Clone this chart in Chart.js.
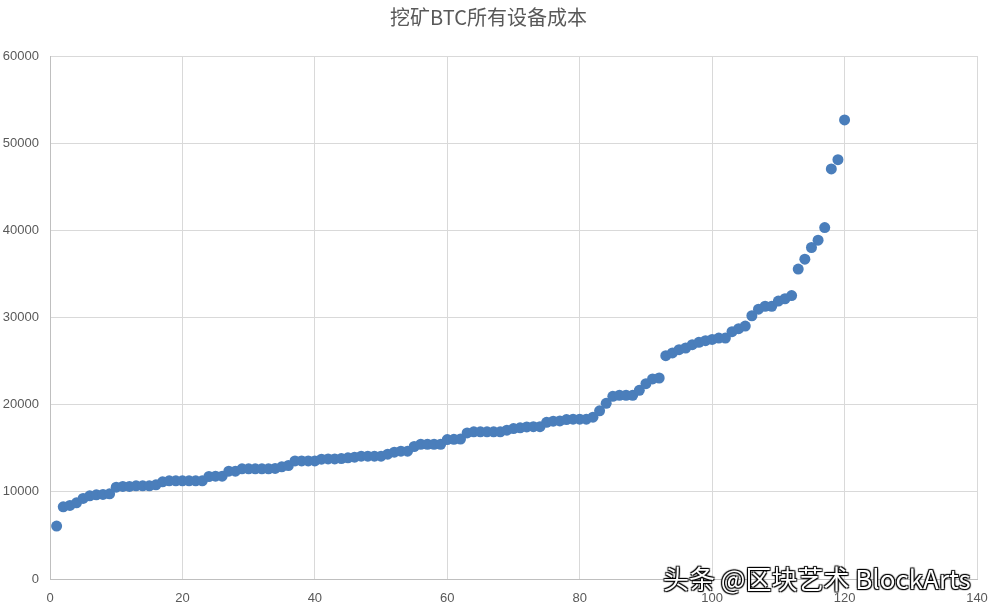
<!DOCTYPE html>
<html lang="zh">
<head>
    <meta charset="UTF-8">
    <title>挖矿BTC所有设备成本</title>
    <style>
        html, body { margin: 0; padding: 0; background: #fff; }
        #wrap { position: relative; width: 991px; height: 612px; }
        /* 水印 */
        #mark {
            position: absolute;
            left: 663px;
            top: 563px;
            font-family: "Noto Sans CJK SC", "Liberation Sans", sans-serif;
            font-size: 26px;
            line-height: 30px;
            color: #fff;
            letter-spacing: 0px;
            text-shadow: 1px 1px 1px #000, -1px -1px 1px #000, 1px -1px 1px #000, -1px 1px 1px #000;
            white-space: nowrap;
        }
    </style>
</head>
<body>
<div id="wrap">
    <canvas id="c" width="991" height="612"></canvas>
    <div id="mark">头条 @区块艺术 BlockArts</div>
</div>
<script src="https://cdn.jsdelivr.net/npm/chart.js"></script>
<script>
    const chartTitle = '挖矿BTC所有设备成本';
    const xTicks = [0, 20, 40, 60, 80, 100, 120, 140];
    const yTicks = [0, 10000, 20000, 30000, 40000, 50000, 60000];

    // 设备序号 1..120 对应的成本
    const deviceIndex = [
        1, 2, 3, 4, 5, 6, 7, 8, 9, 10,
        11, 12, 13, 14, 15, 16, 17, 18, 19, 20,
        21, 22, 23, 24, 25, 26, 27, 28, 29, 30,
        31, 32, 33, 34, 35, 36, 37, 38, 39, 40,
        41, 42, 43, 44, 45, 46, 47, 48, 49, 50,
        51, 52, 53, 54, 55, 56, 57, 58, 59, 60,
        61, 62, 63, 64, 65, 66, 67, 68, 69, 70,
        71, 72, 73, 74, 75, 76, 77, 78, 79, 80,
        81, 82, 83, 84, 85, 86, 87, 88, 89, 90,
        91, 92, 93, 94, 95, 96, 97, 98, 99, 100,
        101, 102, 103, 104, 105, 106, 107, 108, 109, 110,
        111, 112, 113, 114, 115, 116, 117, 118, 119, 120
    ];
    const deviceCost = [
        6070, 8280, 8440, 8740, 9240, 9540, 9660, 9700, 9770, 10540,
        10620, 10620, 10690, 10690, 10690, 10800, 11150, 11260, 11260, 11260,
        11260, 11260, 11260, 11760, 11800, 11800, 12370, 12370, 12640, 12640,
        12640, 12640, 12640, 12680, 12870, 13020, 13550, 13550, 13550, 13550,
        13750, 13780, 13780, 13820, 13900, 13980, 14090, 14090, 14090, 14090,
        14320, 14550, 14660, 14660, 15200, 15460, 15460, 15460, 15460, 16000,
        16030, 16060, 16760, 16880, 16880, 16880, 16880, 16890, 17070, 17260,
        17340, 17450, 17470, 17470, 17980, 18100, 18130, 18290, 18330, 18330,
        18330, 18560, 19300, 20160, 20960, 21080, 21080, 21070, 21650, 22410,
        22950, 23060, 25620, 25930, 26310, 26500, 26880, 27150, 27340, 27490,
        27640, 27640, 28370, 28720, 29020, 30200, 30950, 31290, 31290, 31880,
        32150, 32510, 35550, 36690, 38030, 38870, 40320, 47040, 48110, 52660
    ];

    const points = deviceIndex.map((x, i) => ({ x: x, y: deviceCost[i] }));

    const gridColor = '#d9d9d9';
    const tickColor = '#595959';
    const tickFont = { family: '"Liberation Sans Narrow", "Liberation Sans", sans-serif', size: 13 };

    new Chart(document.getElementById('c'), {
        type: 'scatter',
        data: {
            datasets: [{
                data: points,
                backgroundColor: '#4a7ebb',
                borderColor: '#4a7ebb',
                pointRadius: 5.5,
                pointHoverRadius: 5.5,
                borderWidth: 0
            }]
        },
        options: {
            responsive: false,
            animation: false,
            layout: { padding: { left: 0, right: 14, top: 0, bottom: 0 } },
            plugins: {
                legend: { display: false },
                tooltip: { enabled: false },
                title: {
                    display: true,
                    text: chartTitle,
                    color: '#595959',
                    font: { family: '"Noto Sans CJK SC", sans-serif', size: 20, weight: 'normal' },
                    padding: { top: 5, bottom: 27 }
                }
            },
            scales: {
                x: {
                    type: 'linear',
                    min: 0,
                    max: 140,
                    afterBuildTicks: s => { s.ticks = xTicks.map(v => ({ value: v })); },
                    afterFit: s => { s.height = 33; s.paddingLeft = 0; s.paddingRight = 0; },
                    grid: { color: gridColor, drawTicks: false },
                    border: { color: '#bfbfbf' },
                    ticks: { color: tickColor, font: tickFont, padding: 12, maxRotation: 0, callback: v => String(v) }
                },
                y: {
                    min: 0,
                    max: 60000,
                    afterBuildTicks: s => { s.ticks = yTicks.map(v => ({ value: v })); },
                    afterFit: s => { s.width = 50; s.paddingTop = 0; s.paddingBottom = 0; },
                    grid: { color: gridColor, drawTicks: false },
                    border: { color: '#bfbfbf' },
                    ticks: { color: tickColor, font: tickFont, padding: 11, callback: v => String(v) }
                }
            }
        }
    });
</script>
</body>
</html>
